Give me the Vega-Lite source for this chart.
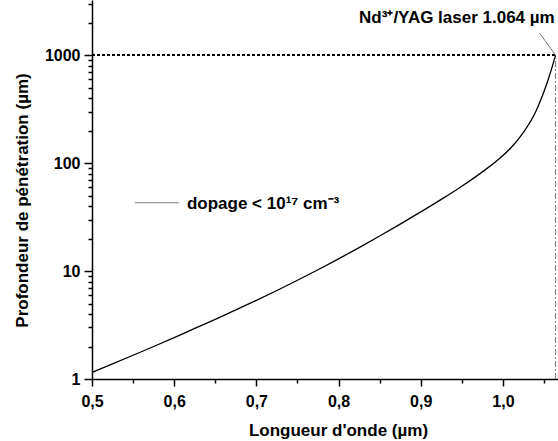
{
  "$schema": "https://vega.github.io/schema/vega-lite/v6.json",
  "width": 466,
  "height": 379,
  "autosize": {"type": "none"},
  "padding": {"left": 92, "top": 0, "right": 0, "bottom": 62},
  "background": "white",
  "config": {
    "view": {"stroke": null},
    "axis": {
      "labelFont": "Liberation Sans",
      "labelFontWeight": "bold",
      "labelFontSize": 16,
      "labelColor": "black",
      "titleFont": "Liberation Sans",
      "titleFontWeight": "bold",
      "titleFontSize": 17,
      "titleColor": "black",
      "domainColor": "black",
      "domainWidth": 1.5,
      "tickColor": "black",
      "tickWidth": 1.5,
      "grid": false,
      "labelOverlap": false,
      "labelBound": false,
      "labelFlush": false
    },
    "text": {"font": "Liberation Sans", "fontWeight": "bold", "fontSize": 17, "color": "black"}
  },
  "datasets": {
    "curve": [
      {"lambda": 0.500, "depth": 1.15},
      {"lambda": 0.525, "depth": 1.38},
      {"lambda": 0.550, "depth": 1.66},
      {"lambda": 0.575, "depth": 2.00},
      {"lambda": 0.600, "depth": 2.42},
      {"lambda": 0.625, "depth": 2.94},
      {"lambda": 0.650, "depth": 3.57},
      {"lambda": 0.675, "depth": 4.36},
      {"lambda": 0.700, "depth": 5.35},
      {"lambda": 0.725, "depth": 6.60},
      {"lambda": 0.750, "depth": 8.21},
      {"lambda": 0.775, "depth": 10.28},
      {"lambda": 0.800, "depth": 12.97},
      {"lambda": 0.825, "depth": 16.48},
      {"lambda": 0.850, "depth": 21.1},
      {"lambda": 0.875, "depth": 27.2},
      {"lambda": 0.900, "depth": 35.3},
      {"lambda": 0.925, "depth": 46.1},
      {"lambda": 0.950, "depth": 61.1},
      {"lambda": 0.975, "depth": 82.9},
      {"lambda": 1.000, "depth": 117.6},
      {"lambda": 1.010, "depth": 139.4},
      {"lambda": 1.020, "depth": 171},
      {"lambda": 1.030, "depth": 220},
      {"lambda": 1.035, "depth": 254},
      {"lambda": 1.040, "depth": 301},
      {"lambda": 1.045, "depth": 368},
      {"lambda": 1.050, "depth": 460},
      {"lambda": 1.055, "depth": 592},
      {"lambda": 1.060, "depth": 783},
      {"lambda": 1.064, "depth": 995}
    ]
  },
  "layer": [
    {
      "data": {"name": "curve"},
      "mark": {"type": "line", "color": "black", "strokeWidth": 1.3, "interpolate": "monotone"},
      "encoding": {
        "x": {
          "field": "lambda", "type": "quantitative",
          "scale": {"domain": [0.5, 1.067], "nice": false, "zero": false},
          "axis": {
            "title": "Longueur d'onde (µm)",
            "values": [0.5, 0.55, 0.6, 0.65, 0.7, 0.75, 0.8, 0.85, 0.9, 0.95, 1.0, 1.05],
            "labelExpr": "abs(datum.value*10 - round(datum.value*10)) < 0.001 ? replace(format(datum.value, '.1f'), '.', ',') : ''",
            "tickSize": {"condition": {"test": "abs(datum.value*10 - round(datum.value*10)) < 0.001", "value": 7}, "value": 4},
            "labelPadding": 7,
            "titleX": 246,
            "titleY": 51,
            "titleBaseline": "middle"
          }
        },
        "y": {
          "field": "depth", "type": "quantitative",
          "scale": {"type": "log", "domain": [1, 3240], "nice": false},
          "axis": {
            "title": "Profondeur de pénétration (µm)",
            "values": [1, 2, 3, 4, 5, 6, 7, 8, 9, 10, 20, 30, 40, 50, 60, 70, 80, 90, 100, 200, 300, 400, 500, 600, 700, 800, 900, 1000, 2000, 3000],
            "format": "d",
            "labelExpr": "indexof([1, 10, 100, 1000], datum.value) >= 0 ? datum.label : ''",
            "tickSize": {"condition": {"test": "indexof([1, 10, 100, 1000], datum.value) >= 0", "value": 8}, "value": 4},
            "labelPadding": 4,
            "titleX": -70,
            "titleY": 200,
            "titleAlign": "center",
            "titleBaseline": "middle"
          }
        }
      }
    },
    {
      "data": {"values": [{"lambda": 0.5, "lambda2": 1.064, "depth": 1000}]},
      "mark": {"type": "rule", "color": "black", "strokeWidth": 2, "strokeDash": [3, 2]},
      "encoding": {
        "x": {"field": "lambda", "type": "quantitative"},
        "x2": {"field": "lambda2"},
        "y": {"field": "depth", "type": "quantitative"}
      }
    },
    {
      "data": {"values": [{"lambda": 1.064, "depth": 1, "depth2": 1000}]},
      "mark": {"type": "rule", "color": "#888888", "strokeWidth": 1.2, "strokeDash": [6, 2, 2, 2]},
      "encoding": {
        "x": {"field": "lambda", "type": "quantitative"},
        "y": {"field": "depth", "type": "quantitative"},
        "y2": {"field": "depth2"}
      }
    },
    {
      "data": {"values": [{"lambda": 1.0446, "depth": 1600, "lambda2": 1.064, "depth2": 1000}]},
      "mark": {"type": "rule", "color": "#777777", "strokeWidth": 1},
      "encoding": {
        "x": {"field": "lambda", "type": "quantitative"},
        "y": {"field": "depth", "type": "quantitative"},
        "x2": {"field": "lambda2"},
        "y2": {"field": "depth2"}
      }
    },
    {
      "data": {"values": [{"lambda": 0.552, "lambda2": 0.6055, "depth": 43}]},
      "mark": {"type": "rule", "color": "#999999", "strokeWidth": 1.3},
      "encoding": {
        "x": {"field": "lambda", "type": "quantitative"},
        "x2": {"field": "lambda2"},
        "y": {"field": "depth", "type": "quantitative"}
      }
    },
    {
      "data": {"values": [{"lambda": 0.6155, "depth": 42, "label": "dopage < 10¹⁷ cm⁻³"}]},
      "mark": {"type": "text", "baseline": "middle", "align": "left"},
      "encoding": {
        "x": {"field": "lambda", "type": "quantitative"},
        "y": {"field": "depth", "type": "quantitative"},
        "text": {"field": "label"}
      }
    },
    {
      "data": {"values": [{"lambda": 1.063, "depth": 2200, "label": "Nd³⁺/YAG laser 1.064 µm"}]},
      "mark": {"type": "text", "baseline": "middle", "align": "right"},
      "encoding": {
        "x": {"field": "lambda", "type": "quantitative"},
        "y": {"field": "depth", "type": "quantitative"},
        "text": {"field": "label"}
      }
    }
  ]
}
